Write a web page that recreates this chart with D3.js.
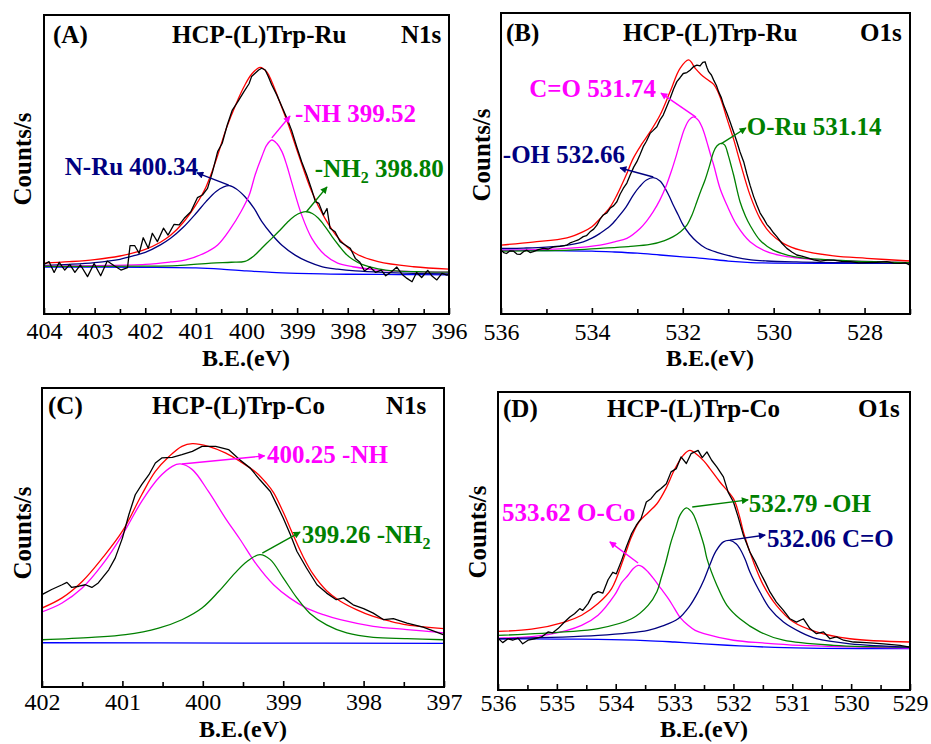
<!DOCTYPE html>
<html><head><meta charset="utf-8">
<script src="https://cdn.jsdelivr.net/npm/d3@7"></script>
<style>
body{margin:0;background:#fff}
svg{display:block}
text{font-family:"Liberation Serif","Times New Roman",Times,serif}
</style>
</head><body>
<svg id="chart" width="931" height="744"></svg>
<script>
// ===================== DATA (eV, relative counts 0-100) =====================
// ---- Panel A : HCP-(L)Trp-Ru N1s ----
const A_major = [404,403,402,401,400,399,398,397,396];
const A_minor = [403.5,402.5,401.5,400.5,399.5,398.5,397.5,396.5];
const A_raw = [[404.00,16.6],[403.90,17.5],[403.80,13.9],[403.70,17.3],[403.59,14.7],[403.49,16.6],[403.39,13.9],[403.28,16.4],[403.14,12.5],[403.01,16.9],[402.88,12.8],[402.75,17.7],[402.62,16.2],[402.48,14.7],[402.35,15.5],[402.30,22.9],[402.21,22.9],[402.12,20.3],[402.04,25.5],[401.94,22.0],[401.86,27.0],[401.76,24.2],[401.64,28.7],[401.55,26.4],[401.43,30.0],[401.33,29.8],[401.23,32.0],[401.10,34.2],[400.97,38.9],[400.87,39.8],[400.77,42.0],[400.67,47.6],[400.57,54.3],[400.48,57.1],[400.38,63.2],[400.28,68.2],[400.18,70.8],[400.05,74.4],[399.95,77.0],[399.90,79.4],[399.83,80.5],[399.76,81.6],[399.70,82.2],[399.63,81.6],[399.57,79.4],[399.50,76.6],[399.40,73.2],[399.30,69.3],[399.20,65.4],[399.11,61.5],[399.01,56.0],[398.91,50.9],[398.81,46.5],[398.71,41.5],[398.64,37.6],[398.57,37.0],[398.48,33.1],[398.41,35.3],[398.35,28.7],[398.25,27.5],[398.15,24.2],[398.05,23.1],[397.95,22.0],[397.85,18.6],[397.76,17.3],[397.67,14.4],[397.56,15.7],[397.45,13.9],[397.34,14.7],[397.25,12.8],[397.13,14.2],[397.03,15.7],[396.93,13.3],[396.83,11.9],[396.73,10.8],[396.64,13.9],[396.54,12.2],[396.42,14.6],[396.33,12.6],[396.24,11.4],[396.14,13.6],[396.04,13.0],[396.00,13.3]];
const A_fit = [[404,17.0],[403.5,17.5],[403,18.2],[402.5,19.4],[402.2,20.6],[402,21.6],[401.7,24.0],[401.5,26.3],[401.25,30.6],[401,36.5],[400.8,42.5],[400.6,51.5],[400.4,62.0],[400.2,70.5],[400.05,76.0],[399.9,80.2],[399.73,82.5],[399.6,81.0],[399.5,77.7],[399.37,72.1],[399.17,63.2],[398.97,53.2],[398.71,40.9],[398.45,32.0],[398.18,25.3],[397.85,20.3],[397.4,17.5],[396.7,15.8],[396,15.0]];
const A_NRu = [[404,16.2],[403.5,16.6],[403,17.2],[402.5,18.3],[402.2,19.6],[402,20.6],[401.7,23.1],[401.5,25.3],[401.25,29.0],[401,33.6],[400.8,37.6],[400.6,41.0],[400.45,42.5],[400.34,42.9],[400.2,41.8],[400.03,39.2],[399.85,35.3],[399.7,31.0],[399.5,26.6],[399.3,23.0],[399.04,19.7],[398.8,17.6],[398.5,15.8],[398.2,15.0],[397.85,14.4],[397.3,13.9],[396.7,13.6],[396,13.4]];
const A_NH = [[404,16.0],[403,16.2],[402,16.6],[401.5,17.4],[401.2,18.1],[400.84,20.3],[400.57,23.1],[400.31,28.7],[400.11,34.2],[399.95,39.6],[399.83,46.5],[399.7,52.5],[399.6,56.5],[399.5,58.2],[399.4,57.0],[399.3,54.3],[399.2,49.5],[399.11,44.2],[398.91,33.1],[398.71,25.3],[398.45,19.7],[398.2,17.0],[397.9,15.8],[397.4,14.7],[396.7,14.2],[396,14.0]];
const A_NH2 = [[404,15.9],[402,16.0],[401.37,16.2],[400.7,17.0],[400.3,17.3],[400.03,17.6],[399.85,19.5],[399.7,22.0],[399.5,25.3],[399.37,27.5],[399.2,30.5],[399.05,32.8],[398.92,33.9],[398.81,34.2],[398.7,33.6],[398.58,32.0],[398.45,29.3],[398.31,25.9],[398.18,23.0],[398.05,20.3],[397.9,18.2],[397.72,16.6],[397.4,15.1],[397.06,14.4],[396.5,14.1],[396,14.0]];
const A_bg = [[404,15.7],[402,15.6],[401,15.4],[400.5,15.0],[400,14.4],[399.5,13.9],[399,13.6],[398.5,13.4],[398,13.3],[397,13.2],[396,13.1]];

// ---- Panel B : HCP-(L)Trp-Ru O1s ----
const B_major = [536,534,532,530,528];
const B_minor = [535,533,531,529,527];
const B_raw = [[536.00,21.2],[535.94,20.4],[535.88,20.1],[535.80,21.0],[535.73,20.9],[535.65,19.9],[535.58,19.8],[535.50,20.8],[535.43,21.2],[535.36,20.4],[535.29,20.7],[535.18,21.4],[535.07,21.8],[534.96,21.6],[534.85,22.3],[534.70,22.5],[534.55,22.9],[534.48,23.6],[534.41,24.0],[534.30,24.6],[534.19,25.7],[534.12,26.0],[534.04,27.3],[533.96,28.2],[533.89,29.5],[533.82,31.5],[533.75,32.9],[533.67,33.6],[533.60,35.1],[533.52,36.0],[533.45,37.3],[533.38,39.8],[533.31,41.7],[533.23,43.5],[533.16,46.1],[533.08,48.8],[533.01,50.6],[532.94,53.0],[532.87,55.6],[532.80,57.4],[532.72,60.0],[532.65,61.0],[532.57,62.2],[532.50,64.5],[532.43,66.1],[532.35,69.0],[532.28,71.6],[532.20,74.8],[532.13,77.2],[532.06,78.5],[531.99,79.9],[531.91,80.2],[531.84,81.0],[531.76,82.2],[531.69,82.7],[531.62,82.4],[531.56,83.6],[531.51,83.8],[531.47,82.0],[531.43,80.5],[531.37,79.4],[531.32,77.7],[531.26,75.9],[531.21,73.8],[531.15,71.8],[531.10,69.4],[531.03,66.8],[530.96,63.9],[530.88,60.4],[530.81,57.2],[530.74,53.8],[530.66,50.6],[530.59,46.5],[530.52,42.8],[530.44,39.0],[530.37,36.2],[530.30,33.6],[530.22,31.7],[530.15,29.8],[530.07,28.4],[530.00,26.9],[529.93,25.7],[529.82,23.5],[529.71,21.8],[529.60,20.6],[529.49,19.6],[529.38,19.2],[529.27,18.7],[529.12,18.0],[528.97,17.6],[528.82,17.9],[528.68,17.9],[528.50,17.5],[528.31,17.4],[528.13,17.0],[527.95,17.1],[527.73,17.2],[527.51,17.4],[527.36,16.9],[527.21,16.8],[527.10,17.0],[527.00,16.2]];
const B_fit = [[536,22.9],[535.3,23.9],[534.55,25.3],[534.2,27.3],[534,29.0],[533.82,31.7],[533.6,35.5],[533.45,39.5],[533.25,46.0],[533.09,51.7],[532.9,56.5],[532.72,60.5],[532.5,66.1],[532.28,73.8],[532.06,81.6],[531.87,84.4],[531.72,81.5],[531.6,79.6],[531.45,77.8],[531.32,76.3],[531.22,73.6],[531.12,69.5],[531.03,65.0],[530.88,58.0],[530.74,50.5],[530.52,39.5],[530.3,31.7],[530.07,26.8],[529.78,23.4],[529.41,21.2],[528.68,19.3],[527.95,18.5],[527,17.6]];
const B_OH = [[536,21.8],[535.5,21.9],[535,22.2],[534.5,23.0],[534.19,24.0],[534,25.2],[533.82,26.8],[533.6,29.2],[533.45,31.7],[533.25,35.5],[533.09,39.5],[532.95,42.3],[532.8,44.5],[532.65,45.3],[532.5,44.2],[532.43,42.8],[532.3,39.2],[532.21,36.2],[532.1,32.9],[531.99,29.5],[531.85,26.5],[531.69,24.0],[531.51,22.0],[531.25,20.5],[530.88,19.0],[530.5,18.0],[530.15,17.6],[529.5,17.3],[528.68,17.1],[527,16.8]];
const B_CO = [[536,21.2],[535,21.5],[534.55,21.8],[533.82,22.9],[533.5,24.0],[533.23,25.1],[532.94,28.4],[532.8,30.8],[532.65,34.0],[532.5,38.0],[532.36,42.8],[532.25,47.5],[532.14,52.8],[532.05,57.5],[531.96,61.6],[531.86,64.5],[531.76,65.5],[531.66,64.4],[531.56,61.5],[531.47,57.2],[531.4,53.5],[531.32,49.5],[531.18,41.7],[531.03,36.2],[530.81,29.5],[530.52,24.0],[530.15,20.7],[529.8,19.3],[529.41,18.5],[528.31,17.6],[527,17.1]];
const B_ORu = [[536,20.9],[534.5,21.2],[533.82,21.8],[533.2,22.4],[532.72,23.1],[532.4,24.4],[532.21,25.7],[532.05,27.3],[531.91,29.5],[531.8,32.8],[531.69,37.3],[531.6,41.0],[531.51,44.5],[531.42,48.8],[531.32,53.9],[531.25,55.8],[531.16,56.7],[531.08,56.2],[531.0,52.8],[530.94,49.5],[530.88,46.1],[530.74,37.3],[530.62,32.5],[530.52,29.5],[530.3,24.5],[530.01,21.2],[529.7,19.6],[529.41,18.7],[528.31,17.6],[527,17.1]];
const B_bg = [[536,21.2],[535,21.1],[534,20.9],[533.5,20.6],[533,20.2],[532.5,19.6],[532,19.0],[531.5,18.4],[531,17.6],[530.5,17.1],[530,16.9],[529,16.8],[527,16.8]];

// ---- Panel C : HCP-(L)Trp-Co N1s ----
const C_major = [402,401,400,399,398,397];
const C_minor = [401.5,400.5,399.5,398.5,397.5];
const C_raw = [[402.00,30.9],[401.88,32.6],[401.75,34.2],[401.69,35.0],[401.63,33.3],[401.54,33.7],[401.46,34.2],[401.38,33.3],[401.30,34.8],[401.17,39.2],[401.09,43.1],[401.00,49.8],[400.92,57.6],[400.84,64.3],[400.76,67.7],[400.67,71.0],[400.59,74.9],[400.51,76.6],[400.38,76.8],[400.26,77.7],[400.13,78.8],[400.01,80.5],[399.84,80.5],[399.68,79.4],[399.54,76.0],[399.41,73.2],[399.29,69.3],[399.16,65.4],[399.08,61.0],[399.00,56.5],[398.91,50.9],[398.83,45.4],[398.71,39.8],[398.58,34.2],[398.46,31.4],[398.34,29.2],[398.25,29.8],[398.13,27.5],[398.00,26.2],[397.88,24.7],[397.75,22.5],[397.63,22.9],[397.46,21.4],[397.26,20.0],[397.01,17.5]];
const C_fit = [[402,26.4],[401.75,29.8],[401.5,35.3],[401.25,43.1],[401,52.1],[400.76,64.3],[400.59,72.1],[400.42,77.1],[400.26,80.5],[400.13,81.4],[399.93,80.5],[399.72,78.3],[399.54,75.5],[399.33,71.6],[399.21,68.2],[399.12,65.0],[399,58.5],[398.87,50.5],[398.75,43.5],[398.63,37.8],[398.46,32.2],[398.29,28.7],[398.09,25.9],[397.88,23.6],[397.67,22.0],[397.46,20.8],[397,19.5]];
const C_NH = [[402,25.1],[401.75,28.1],[401.5,33.1],[401.25,40.9],[401,50.9],[400.76,62.1],[400.55,69.9],[400.38,73.8],[400.28,74.6],[400.13,72.7],[399.93,65.4],[399.72,56.5],[399.54,49.5],[399.33,40.9],[399.12,34.2],[398.92,29.8],[398.71,26.4],[398.5,24.2],[398.29,22.5],[397.88,20.3],[397.46,19.2],[397,18.1]];
const C_NH2 = [[402,15.8],[401.38,16.6],[400.96,17.5],[400.55,19.7],[400.26,22.5],[400.01,26.4],[399.8,32.0],[399.6,38.1],[399.45,42.0],[399.29,44.3],[399.16,42.6],[399,36.5],[398.83,29.8],[398.67,24.7],[398.46,20.8],[398.21,18.1],[397.88,16.6],[397.46,16.2],[397,15.8]];
const C_bg = [[402,14.8],[399.5,14.7],[397,14.6]];

// ---- Panel D : HCP-(L)Trp-Co O1s ----
const D_major = [536,535,534,533,532,531,530,529];
const D_minor = [535.5,534.5,533.5,532.5,531.5,530.5,529.5];
const D_raw = [[536.00,17.4],[535.92,15.9],[535.83,17.2],[535.75,16.7],[535.66,17.4],[535.58,15.5],[535.49,16.7],[535.38,17.2],[535.26,17.8],[535.15,19.5],[535.07,19.2],[534.98,20.6],[534.87,22.8],[534.78,24.5],[534.70,25.6],[534.61,27.3],[534.56,26.7],[534.47,29.0],[534.39,32.0],[534.30,33.0],[534.22,32.5],[534.13,37.0],[534.05,39.5],[533.99,39.0],[533.90,43.5],[533.82,48.0],[533.73,52.5],[533.65,55.3],[533.57,57.5],[533.48,63.1],[533.40,64.2],[533.31,66.4],[533.23,67.6],[533.14,69.2],[533.06,73.2],[532.97,74.3],[532.89,78.2],[532.80,76.0],[532.72,79.3],[532.60,80.4],[532.53,78.0],[532.45,79.9],[532.37,77.1],[532.28,74.8],[532.17,71.5],[532.09,66.4],[532.00,63.1],[531.92,58.1],[531.83,51.9],[531.72,46.3],[531.63,43.0],[531.55,39.6],[531.46,36.2],[531.38,32.9],[531.27,29.5],[531.15,26.7],[531.04,23.9],[530.93,22.8],[530.81,23.9],[530.70,20.6],[530.59,18.9],[530.47,19.5],[530.36,17.2],[530.25,17.8],[530.13,16.7],[529.96,16.1],[529.74,15.9],[529.45,15.5],[529.17,15.0],[529.00,14.4]];
const D_fit = [[536,19.7],[535.43,20.4],[534.87,22.8],[534.58,25.1],[534.3,29.0],[534.07,34.0],[533.85,45.0],[533.73,51.5],[533.6,56.5],[533.45,59.5],[533.3,62.5],[533.15,67.5],[533.0,74.0],[532.85,78.8],[532.74,80.4],[532.6,78.7],[532.5,76.8],[532.4,74.3],[532.23,69.8],[532.0,64.2],[531.9,58.5],[531.83,53.0],[531.66,43.0],[531.49,35.1],[531.27,28.4],[530.98,22.8],[530.59,19.5],[530.02,17.2],[529,16.1]];
const D_OCo = [[536,17.4],[535.15,18.6],[534.58,21.7],[534.3,25.1],[534.02,31.8],[533.9,36.0],[533.79,38.5],[533.7,40.8],[533.62,41.8],[533.55,41.4],[533.45,39.6],[533.35,37.2],[533.23,34.0],[533.1,30.5],[533.0,27.3],[532.9,24.2],[532.77,21.7],[532.65,20.0],[532.5,18.9],[532.0,16.7],[531.5,15.8],[530.87,15.0],[529,14.1]];
const D_OH = [[536,18.3],[534.87,19.5],[534.3,20.6],[533.73,23.9],[533.45,28.4],[533.3,33.0],[533.23,37.4],[533.15,42.8],[533.06,49.7],[532.98,54.5],[532.91,58.6],[532.8,61.1],[532.7,59.5],[532.63,56.5],[532.57,53.0],[532.5,48.5],[532.45,44.1],[532.28,35.1],[532.11,28.4],[531.89,23.9],[531.55,19.5],[531.15,16.7],[530.3,15.0],[529,14.4]];
const D_CO = [[536,17.2],[534.3,18.3],[533.45,20.0],[533.2,21.5],[532.94,23.9],[532.75,28.0],[532.6,32.9],[532.5,37.0],[532.4,42.0],[532.3,46.5],[532.17,49.7],[532.06,50.2],[531.95,49.0],[531.89,47.4],[531.8,43.8],[531.72,39.6],[531.55,32.9],[531.38,27.3],[531.15,22.8],[530.87,19.5],[530.59,17.2],[530.02,15.5],[529,14.4]];
const D_bg = [[536,17.2],[535,17.1],[534.3,17.0],[533.5,16.6],[533,16.1],[532.5,15.5],[531.9,14.8],[531.3,14.3],[530.5,14.0],[529,13.9]];

// ===================== STYLE / LAYOUT =====================
const COL = {raw:'#000000', fit:'#ff0000', navy:'#000080', mag:'#ff00ff', green:'#008000', bg:'#0000ff'};
const FS_HEAD = 25, FS_NOTE = 25, FS_TICK = 24, FS_AXT = 24;

const panels = [
  {id:'A', box:{l:44,r:449,t:15,b:314}, domain:[404,396], major:A_major, minor:A_minor,
   tag:'(A)', title:'HCP-(L)Trp-Ru', core:'N1s',
   pos:{tag:[53,43], title:[172,43], core:[401,43], counts:[31,159], xt:[246,366], tickBase:339},
   curves:[[A_bg,'bg'],[A_NRu,'navy'],[A_NH,'mag'],[A_NH2,'green'],[A_fit,'fit'],[A_raw,'raw']],
   notes:[
     {t:'-NH 399.52', c:'mag', at:[399.04,64.2], from:[399.50,58.9], to:[399.14,66.2]},
     {t:'N-Ru 400.34', c:'navy', at:[403.59,46.5], from:[400.35,43.1], to:[400.98,47.2]},
     {t:'-NH', sub:'2', rest:' 398.80', c:'green', at:[398.65,45.8], from:[398.82,34.1], to:[398.41,42.5]}
   ]},
  {id:'B', box:{l:501,r:910,t:13,b:314}, domain:[536,527], major:B_major, minor:B_minor,
   tag:'(B)', title:'HCP-(L)Trp-Ru', core:'O1s',
   pos:{tag:[506,41], title:[623,41], core:[860,41], counts:[490,155], xt:[710,366], tickBase:340},
   curves:[[B_bg,'bg'],[B_OH,'navy'],[B_CO,'mag'],[B_ORu,'green'],[B_fit,'fit'],[B_raw,'raw']],
   notes:[
     {t:'C=O 531.74', c:'mag', at:[535.38,72.1], from:[531.71,65.4], to:[532.48,73.4]},
     {t:'O-Ru 531.14', c:'green', at:[530.59,59.5], from:[531.16,56.5], to:[530.61,61.8]},
     {t:'-OH 532.66', c:'navy', at:[535.96,50.2], from:[532.65,45.5], to:[533.38,48.5]}
   ]},
  {id:'C', box:{l:42,r:444,t:388,b:687}, domain:[402,397], major:C_major, minor:C_minor,
   tag:'(C)', title:'HCP-(L)Trp-Co', core:'N1s',
   pos:{tag:[48,414], title:[152,414], core:[386,414], counts:[31,533], xt:[243,737], tickBase:710},
   curves:[[C_bg,'bg'],[C_NH,'mag'],[C_NH2,'green'],[C_fit,'fit'],[C_raw,'raw']],
   notes:[
     {t:'400.25 -NH', c:'mag', at:[399.20,74.9], from:[400.26,74.6], to:[399.23,77.3]},
     {t:'399.26 -NH', sub:'2', rest:'', c:'green', at:[398.77,48.2], from:[399.26,44.8], to:[398.79,51.8]}
   ]},
  {id:'D', box:{l:498,r:910,t:392,b:690}, domain:[536,529], major:D_major, minor:D_minor,
   tag:'(D)', title:'HCP-(L)Trp-Co', core:'O1s',
   pos:{tag:[503,417], title:[607,417], core:[858,417], counts:[486,532], xt:[704,737], tickBase:711},
   curves:[[D_bg,'bg'],[D_OCo,'mag'],[D_OH,'green'],[D_CO,'navy'],[D_fit,'fit'],[D_raw,'raw']],
   notes:[
     {t:'533.62 O-Co', c:'mag', at:[535.93,56.7], from:[533.62,42.6], to:[534.10,49.7]},
     {t:'532.79 -OH', c:'green', at:[531.74,59.7], from:[532.70,61.4], to:[531.75,63.8]},
     {t:'532.06 C=O', c:'navy', at:[531.43,48.0], from:[532.06,50.3], to:[531.46,52.0]}
   ]}
];

// ===================== DRAW =====================
const svg = d3.select('#chart');
svg.append('rect').attr('width',931).attr('height',744).attr('fill','#fff');
const defs = svg.append('defs');
['navy','mag','green'].forEach(k=>{
  defs.append('marker').attr('id','arr-'+k)
    .attr('viewBox','0 0 10 10').attr('refX',9).attr('refY',5)
    .attr('markerWidth',8).attr('markerHeight',7).attr('markerUnits','userSpaceOnUse')
    .attr('orient','auto')
    .append('path').attr('d','M0,0 L10,5 L0,10 Z').attr('fill',COL[k]);
});

panels.forEach(p=>{
  const B = p.box;
  const x = d3.scaleLinear().domain(p.domain).range([B.l,B.r]);
  const y = d3.scaleLinear().domain([0,100]).range([B.b,B.t]);
  const g = svg.append('g').attr('class','panel-'+p.id);

  defs.append('clipPath').attr('id','clip-'+p.id)
    .append('rect').attr('x',B.l).attr('y',B.t).attr('width',B.r-B.l).attr('height',B.b-B.t);

  const smooth = d3.line().x(d=>x(d[0])).y(d=>y(d[1])).curve(d3.curveCatmullRom.alpha(0.5));
  const straight = d3.line().x(d=>x(d[0])).y(d=>y(d[1]));

  const cg = g.append('g').attr('clip-path','url(#clip-'+p.id+')');
  p.curves.forEach(([data,key])=>{
    cg.append('path').datum(data)
      .attr('d', key==='raw' ? straight : smooth)
      .attr('fill','none').attr('stroke',COL[key])
      .attr('stroke-width',1.3)
      .attr('stroke-linejoin','round');
  });

  // minor ticks
  const minorAxis = d3.axisBottom(x).tickValues(p.minor).tickSize(-5).tickSizeOuter(0).tickFormat('');
  const ma = g.append('g').attr('transform',`translate(0,${B.b})`).call(minorAxis);
  ma.select('.domain').remove();
  ma.selectAll('line').attr('stroke','#000').attr('stroke-width',1.6);

  // major ticks + labels
  const pad = (p.pos.tickBase - B.b) - 17;
  const majorAxis = d3.axisBottom(x).tickValues(p.major).tickSize(-6).tickSizeOuter(0)
    .tickPadding(pad).tickFormat(d3.format('d'));
  const mj = g.append('g').attr('transform',`translate(0,${B.b})`).call(majorAxis)
    .attr('font-family',null).attr('font-size',null);
  mj.select('.domain').remove();
  mj.selectAll('line').attr('stroke','#000').attr('stroke-width',1.6);
  mj.selectAll('text').attr('font-size',FS_TICK).attr('fill','#000')
    .style('font-family','"Liberation Serif","Times New Roman",serif');

  // frame
  g.append('rect').attr('x',B.l).attr('y',B.t).attr('width',B.r-B.l).attr('height',B.b-B.t)
    .attr('fill','none').attr('stroke','#000').attr('stroke-width',2);

  // header texts
  const hdr = (txt,pt)=>g.append('text').attr('x',pt[0]).attr('y',pt[1])
    .attr('font-size',FS_HEAD).attr('font-weight','bold').attr('fill','#000').text(txt);
  hdr(p.tag,p.pos.tag); hdr(p.title,p.pos.title); hdr(p.core,p.pos.core);

  // axis titles
  g.append('text').attr('x',p.pos.xt[0]).attr('y',p.pos.xt[1]).attr('text-anchor','middle')
    .attr('font-size',FS_AXT).attr('font-weight','bold').text('B.E.(eV)');
  g.append('text').attr('transform',`translate(${p.pos.counts[0]},${p.pos.counts[1]}) rotate(-90)`)
    .attr('text-anchor','middle').attr('font-size',FS_HEAD).attr('font-weight','bold').text('Counts/s');

  // annotations
  p.notes.forEach(n=>{
    g.append('line')
      .attr('x1',x(n.from[0])).attr('y1',y(n.from[1]))
      .attr('x2',x(n.to[0])).attr('y2',y(n.to[1]))
      .attr('stroke',COL[n.c]).attr('stroke-width',1.4)
      .attr('marker-end','url(#arr-'+n.c+')');
    const t = g.append('text').attr('x',x(n.at[0])).attr('y',y(n.at[1]))
      .attr('font-size',FS_NOTE).attr('font-weight','bold').attr('fill',COL[n.c]);
    t.append('tspan').text(n.t);
    if(n.sub){
      t.append('tspan').attr('font-size',16).attr('dy',6).text(n.sub);
      if(n.rest) t.append('tspan').attr('dy',-6).text(n.rest);
    }
  });
});
</script>
</body></html>
